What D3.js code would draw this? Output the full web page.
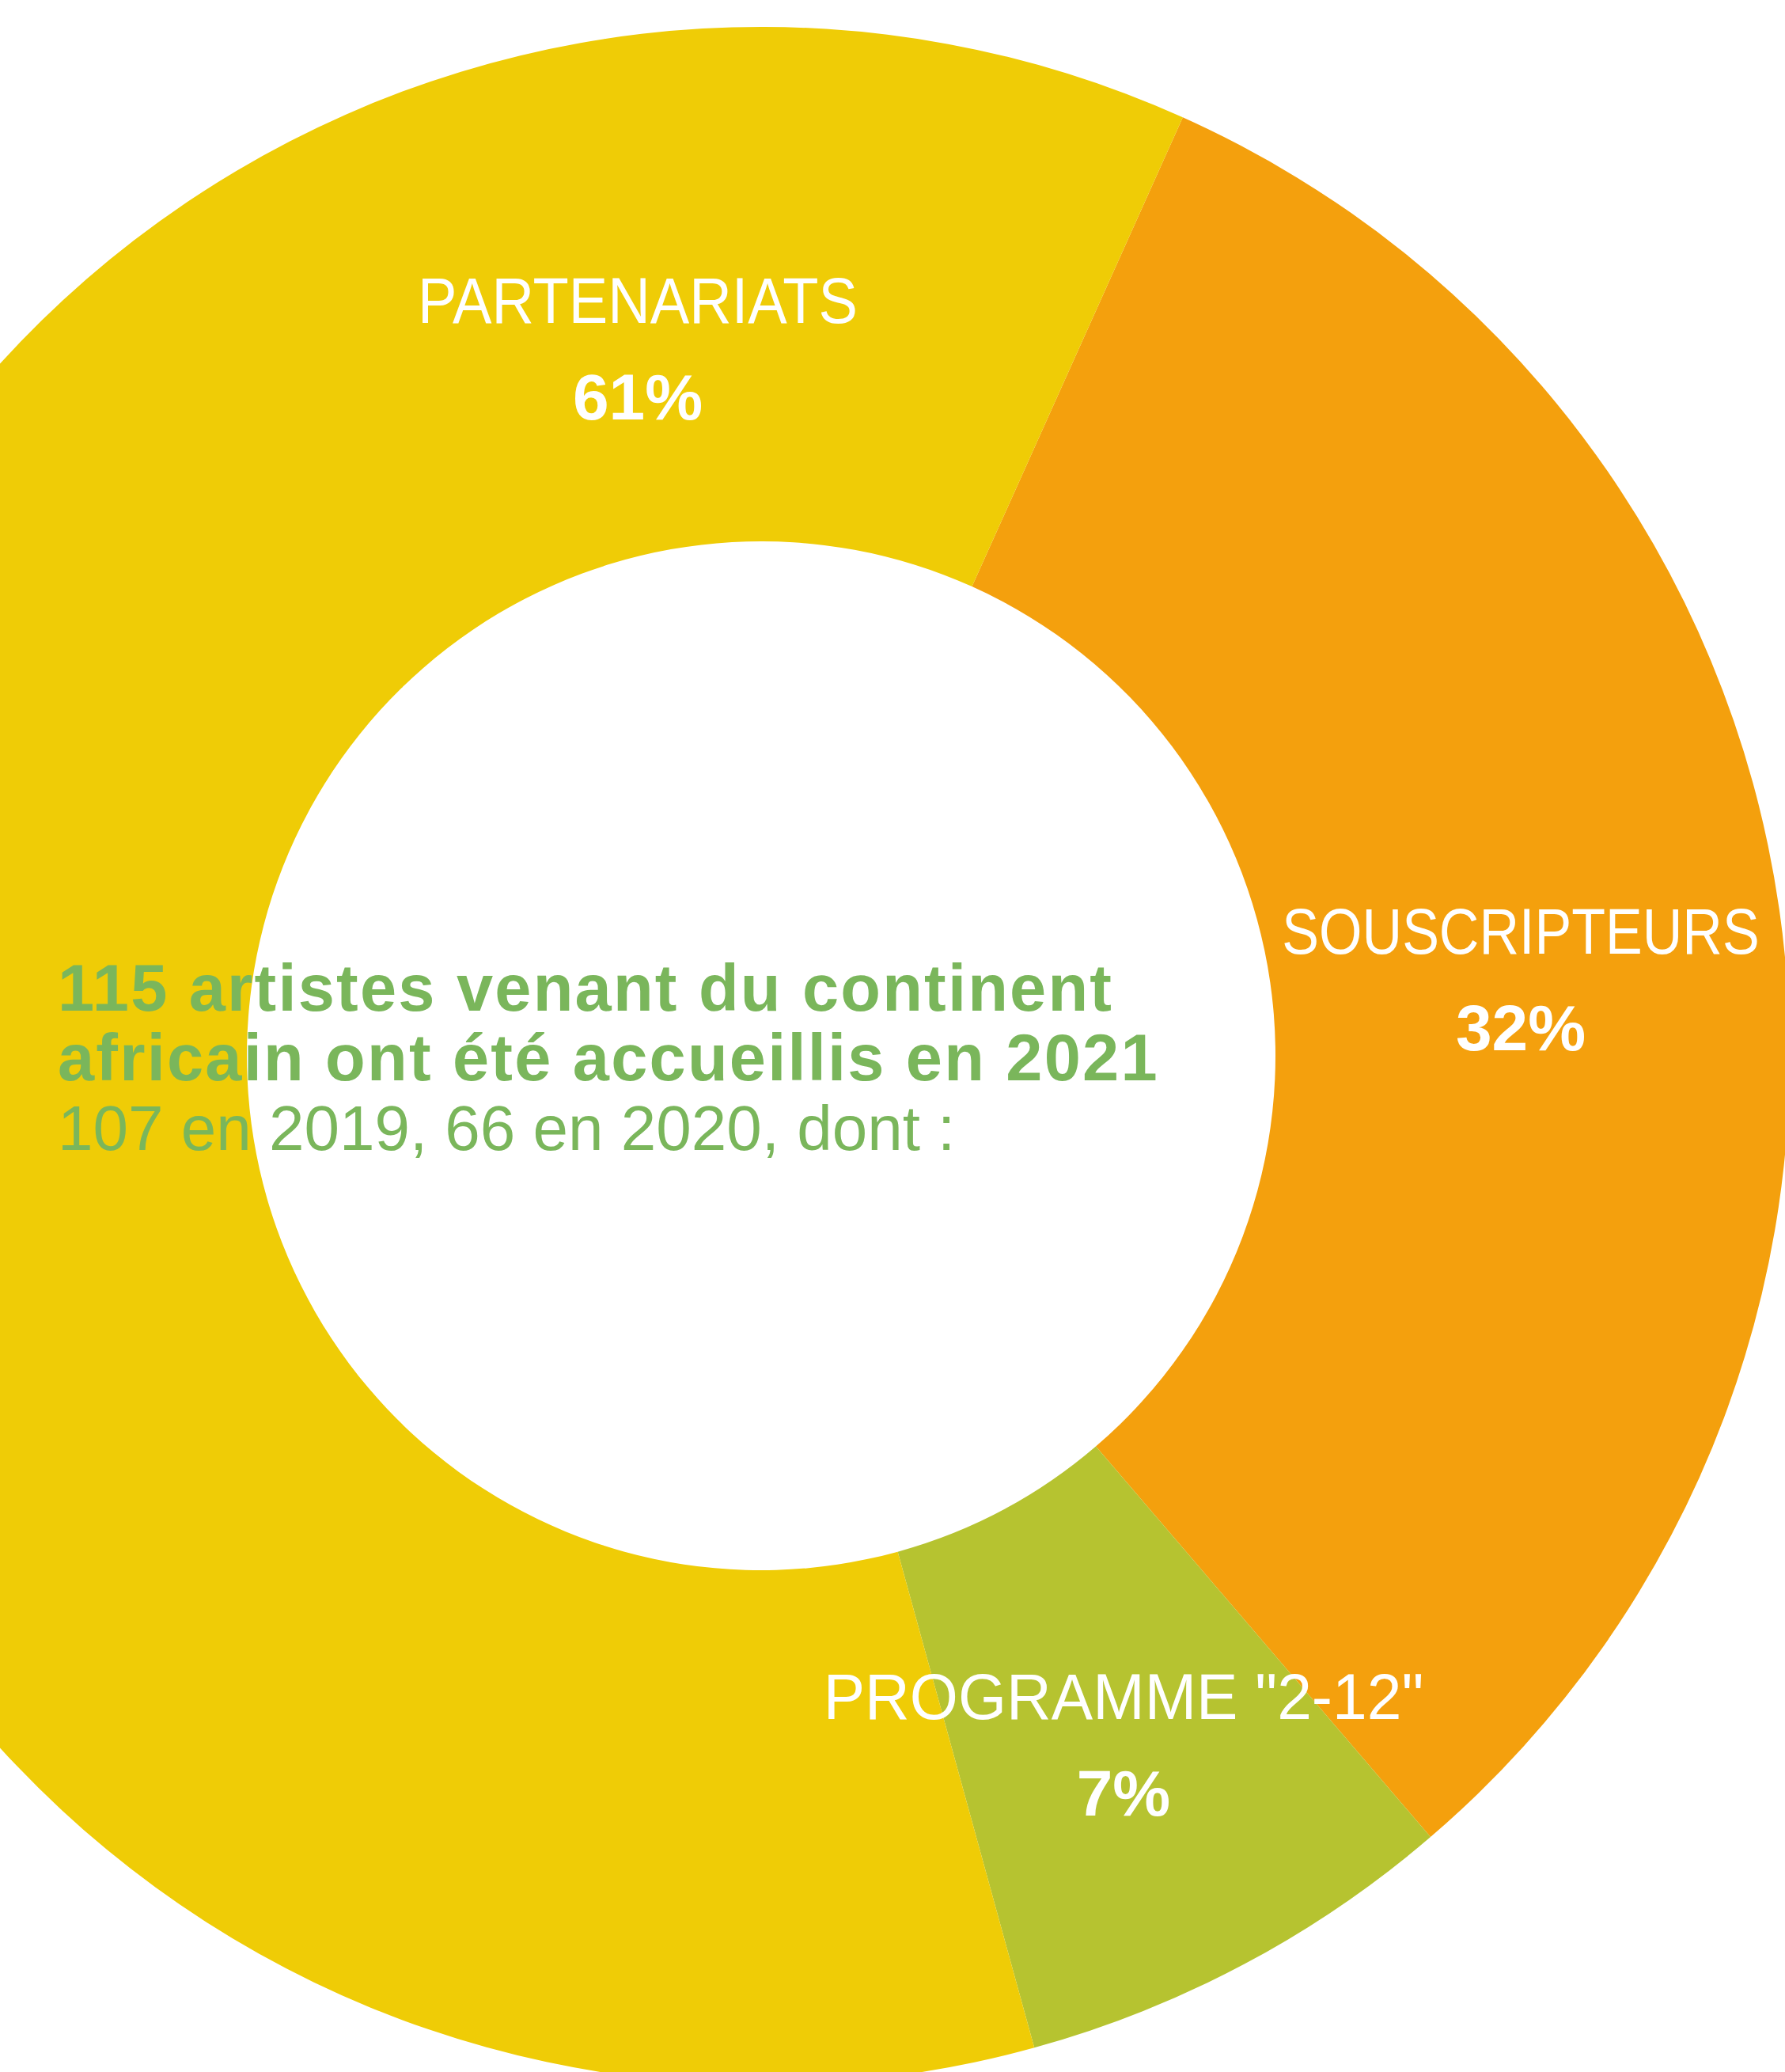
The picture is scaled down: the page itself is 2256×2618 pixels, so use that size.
<!DOCTYPE html>
<html>
<head>
<meta charset="utf-8">
<script src="https://cdn.jsdelivr.net/npm/d3@7"></script>
<style>
    body { margin: 0; background: #fff; }
    svg { display: block; }
    .label { font-family: "Liberation Sans", sans-serif; fill: #fff; }
    .pct { font-family: "Liberation Sans", sans-serif; font-weight: bold; fill: #fff; }
    .intro { font-family: "Liberation Sans", sans-serif; fill: #7ab65b; }
</style>
</head>
<body>
<div id="chart"></div>
<script>

var categories = ["SOUSCRIPTEURS", "PROGRAMME \"2-12\"", "PARTENARIATS"];
var values = [32, 7, 61];
var colors = ["#f4a00d", "#b6c330", "#efcc06"];
var introBold = ["115 artistes venant du continent", "africain ont été accueillis en 2021"];
var introLight = "107 en 2019, 66 en 2020, dont :";

var width = 2256;
var height = 2618;
var cx = 962;
var cy = 1334;
var outerR = 1300;
var innerR = 650;
var start = 24.2 * Math.PI / 180;

var svg = d3.select("#chart").append("svg")
    .attr("width", width)
    .attr("height", height);

var g = svg.append("g")
    .attr("transform", "translate(" + cx + "," + cy + ")");

var pie = d3.pie()
    .sort(null)
    .value(function(d) { return d; })
    .startAngle(start)
    .endAngle(start + 2 * Math.PI);

var arc = d3.arc()
    .innerRadius(innerR)
    .outerRadius(outerR);

g.selectAll("path.slice")
    .data(pie(values))
    .enter().append("path")
    .attr("class", "slice")
    .attr("d", arc)
    .style("fill", function(d, i) { return colors[i]; });

// label centres, plus a horizontal squeeze
// to fake the condensed face of the original
var labelX = [1922, 1420, 806];
var labelY = [1205, 2172, 408];
var squeeze = [0.865, 0.97, 0.915];

var labels = svg.selectAll("g.lab")
    .data(categories)
    .enter().append("g")
    .attr("class", "lab")
    .attr("transform", function(d, i) {
        return "translate(" + labelX[i] + "," + labelY[i] + ")";
    });

labels.append("text")
    .attr("class", "label")
    .attr("text-anchor", "middle")
    .attr("transform", function(d, i) { return "scale(" + squeeze[i] + ",1)"; })
    .style("font-size", "81px")
    .text(function(d) { return d; });

labels.append("text")
    .attr("class", "pct")
    .attr("y", 122)
    .attr("text-anchor", "middle")
    .style("font-size", "82px")
    .text(function(d, i) { return values[i] + "%"; });

// centre text
svg.selectAll("text.bold")
    .data(introBold)
    .enter().append("text")
    .attr("class", "intro bold")
    .attr("x", 73)
    .attr("y", function(d, i) { return 1277 + i * 88; })
    .style("font-size", "83px")
    .style("font-weight", "bold")
    .style("letter-spacing", "2.2px")
    .text(function(d) { return d; });

svg.append("text")
    .attr("class", "intro")
    .attr("x", 73)
    .attr("y", 1453)
    .style("font-size", "80px")
    .text(introLight);

</script>
</body>
</html>
